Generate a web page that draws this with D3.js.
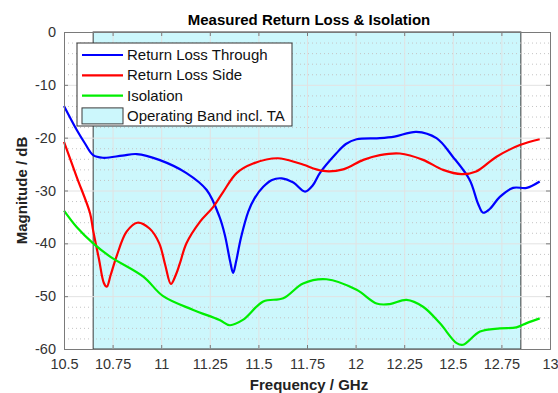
<!DOCTYPE html>
<html>
<head>
<meta charset="utf-8">
<script src="https://cdn.jsdelivr.net/npm/d3@7"></script>
<style>
  body { margin: 0; background: #fff; }
  svg { display: block; font-family: "Liberation Sans", Arial, sans-serif; }
</style>
</head>
<body>
<svg></svg>
<script>
// series data (GHz, dB)
let throughFreq = [10.5, 10.565, 10.608, 10.65, 10.70, 10.80, 10.874, 10.99, 11.13, 11.234, 11.30, 11.328, 11.355, 11.37, 11.385, 11.41, 11.448, 11.48, 11.525, 11.57, 11.62, 11.68, 11.74, 11.78, 11.816, 11.90, 11.95, 12.005, 12.125, 12.2, 12.313, 12.416, 12.50, 12.587, 12.63, 12.656, 12.69, 12.742, 12.81, 12.88, 12.947]
let throughDb = [-14.0, -18.5, -21.1, -23.3, -23.8, -23.4, -23.1, -24.2, -26.7, -29.9, -35.0, -38.5, -43.5, -45.6, -43.5, -39.0, -34.0, -31.5, -29.3, -28.0, -27.7, -28.5, -30.2, -29.0, -26.7, -23.0, -21.2, -20.3, -20.1, -19.8, -18.9, -20.1, -23.6, -28.0, -32.5, -34.2, -33.5, -31.2, -29.5, -29.5, -28.3]

let sideFreq = [10.5, 10.565, 10.634, 10.65, 10.68, 10.705, 10.72, 10.74, 10.77, 10.822, 10.877, 10.94, 10.99, 11.02, 11.05, 11.075, 11.096, 11.13, 11.2, 11.268, 11.32, 11.388, 11.473, 11.60, 11.713, 11.833, 11.936, 12.04, 12.125, 12.228, 12.347, 12.45, 12.545, 12.62, 12.725, 12.845, 12.947]
let sideDb = [-20.8, -27.4, -34.3, -37.6, -43.0, -47.5, -48.2, -46.0, -42.5, -37.8, -36.1, -37.2, -40.0, -44.0, -47.7, -46.0, -43.8, -40.0, -35.9, -33.1, -30.2, -26.7, -24.9, -23.9, -24.9, -26.3, -26.0, -24.2, -23.3, -23.0, -24.2, -26.1, -26.9, -26.4, -23.6, -21.4, -20.3]

let isoFreq = [10.5, 10.565, 10.65, 10.737, 10.908, 11.01, 11.165, 11.30, 11.353, 11.42, 11.525, 11.628, 11.73, 11.85, 12.005, 12.108, 12.176, 12.262, 12.347, 12.433, 12.52, 12.553, 12.64, 12.742, 12.827, 12.88, 12.947]
let isoDb = [-33.8, -36.9, -40.0, -42.5, -46.3, -50.0, -52.6, -54.5, -55.5, -54.5, -51.0, -50.4, -47.6, -46.8, -48.8, -51.4, -51.5, -50.7, -52.0, -55.1, -58.9, -59.2, -56.7, -56.1, -55.9, -55.1, -54.2]

let band = [10.65, 12.85]

let xTicks = [10.5, 10.75, 11, 11.25, 11.5, 11.75, 12, 12.25, 12.5, 12.75, 13]
let yTicks = [0, -10, -20, -30, -40, -50, -60]
let yMinor = [-2, -4, -6, -8, -12, -14, -16, -18, -22, -24, -26, -28, -32, -34, -36, -38, -42, -44, -46, -48, -52, -54, -56, -58]

let series = [
  { name: 'Return Loss Through', color: '#0000ff', f: throughFreq, v: throughDb },
  { name: 'Return Loss Side', color: '#ff0000', f: sideFreq, v: sideDb },
  { name: 'Isolation', color: '#00ee00', f: isoFreq, v: isoDb }
]

let width = 558
let height = 393
let plotLeft = 64, plotRight = 550, plotTop = 32, plotBottom = 349

let svg = d3.select('svg').attr('width', width).attr('height', height)

let xScale = d3.scaleLinear().domain([10.5, 13]).range([plotLeft, plotRight])
let yScale = d3.scaleLinear().domain([-60, 0]).range([plotBottom, plotTop])

// operating band
svg.append('rect')
  .attr('x', xScale(band[0]))
  .attr('y', plotTop)
  .attr('width', xScale(band[1]) - xScale(band[0]))
  .attr('height', plotBottom - plotTop)
  .attr('fill', '#ccf7fc')
  .attr('stroke', '#3a3a3a')
  .attr('stroke-width', 1)

// minor grid
svg.append('g').selectAll('line')
  .data(yMinor)
  .enter()
  .append('line')
  .attr('x1', plotLeft).attr('x2', plotRight)
  .attr('y1', d => yScale(d) + 0.5).attr('y2', d => yScale(d) + 0.5)
  .attr('stroke', '#c4c4c4')
  .attr('stroke-dasharray', '1,3')

// major grid
svg.append('g').selectAll('line')
  .data(xTicks.slice(1, -1))
  .enter()
  .append('line')
  .attr('x1', d => xScale(d) + 0.5).attr('x2', d => xScale(d) + 0.5)
  .attr('y1', plotTop).attr('y2', plotBottom)
  .attr('stroke', '#e2e2e2')
svg.append('g').selectAll('line')
  .data(yTicks.slice(1, -1))
  .enter()
  .append('line')
  .attr('x1', plotLeft).attr('x2', plotRight)
  .attr('y1', d => yScale(d) + 0.5).attr('y2', d => yScale(d) + 0.5)
  .attr('stroke', '#e2e2e2')

// curves
let line = d3.line()
  .x(d => xScale(d[0]))
  .y(d => yScale(d[1]))
  .curve(d3.curveCatmullRom.alpha(0.5))

series.forEach(s => {
  svg.append('path')
    .datum(s.f.map((f, i) => [f, s.v[i]]))
    .attr('d', line)
    .attr('fill', 'none')
    .attr('stroke', s.color)
    .attr('stroke-width', 2.2)
    .attr('stroke-linejoin', 'round')
})

// axes
let xAxis = d3.axisBottom(xScale).tickValues(xTicks).tickSize(-4).tickPadding(10).tickFormat(d => String(d))
let yAxis = d3.axisLeft(yScale).tickValues(yTicks).tickSize(-4).tickPadding(8).tickFormat(d => String(d))
let xAxisTop = d3.axisTop(xScale).tickValues(xTicks).tickSize(-4).tickFormat('')
let yAxisRight = d3.axisRight(yScale).tickValues(yTicks).tickSize(-4).tickFormat('')

let styleAxis = g => {
  g.select('.domain').attr('stroke', '#7a7a7a')
  g.selectAll('.tick line').attr('stroke', '#7a7a7a')
  g.selectAll('.tick text').attr('fill', '#333').style('font-size', '14.5px').style('font-family', '"Liberation Sans", Arial, sans-serif')
}

svg.append('g').attr('transform', 'translate(0,' + plotBottom + ')').call(xAxis).call(styleAxis)
svg.append('g').attr('transform', 'translate(' + plotLeft + ',0)').call(yAxis).call(styleAxis)
svg.append('g').attr('transform', 'translate(0,' + plotTop + ')').call(xAxisTop).call(styleAxis)
svg.append('g').attr('transform', 'translate(' + plotRight + ',0)').call(yAxisRight).call(styleAxis)

// titles
svg.append('text')
  .attr('x', (plotLeft + plotRight) / 2 + 2).attr('y', 25)
  .attr('text-anchor', 'middle')
  .attr('font-weight', 'bold').attr('font-size', 15)
  .attr('fill', '#000')
  .text('Measured Return Loss & Isolation')

svg.append('text')
  .attr('x', (plotLeft + plotRight) / 2 + 2).attr('y', 390)
  .attr('text-anchor', 'middle')
  .attr('font-weight', 'bold').attr('font-size', 15)
  .attr('fill', '#222')
  .text('Frequency / GHz')

svg.append('text')
  .attr('transform', 'translate(27,' + ((plotTop + plotBottom) / 2) + ') rotate(-90)')
  .attr('text-anchor', 'middle')
  .attr('font-weight', 'bold').attr('font-size', 15)
  .attr('fill', '#222')
  .text('Magnitude / dB')

// legend
let legend = svg.append('g').attr('transform', 'translate(77,43)')
legend.append('rect')
  .attr('width', 215).attr('height', 83)
  .attr('fill', '#fff')
  .attr('stroke', '#333')
  .attr('stroke-width', 1)

let items = series.map(s => s.name).concat(['Operating Band incl. TA'])
items.forEach((name, i) => {
  let cy = 12 + i * 20.3
  if (i < 3) {
    legend.append('line')
      .attr('x1', 5).attr('x2', 46)
      .attr('y1', cy).attr('y2', cy)
      .attr('stroke', series[i].color)
      .attr('stroke-width', 2.2)
  } else {
    legend.append('rect')
      .attr('x', 5).attr('y', cy - 8)
      .attr('width', 41).attr('height', 16)
      .attr('fill', '#ccf7fc')
      .attr('stroke', '#3a3a3a')
  }
  legend.append('text')
    .attr('x', 50).attr('y', cy + 5)
    .attr('font-size', 15)
    .attr('fill', '#111')
    .text(name)
})
</script>
</body>
</html>
